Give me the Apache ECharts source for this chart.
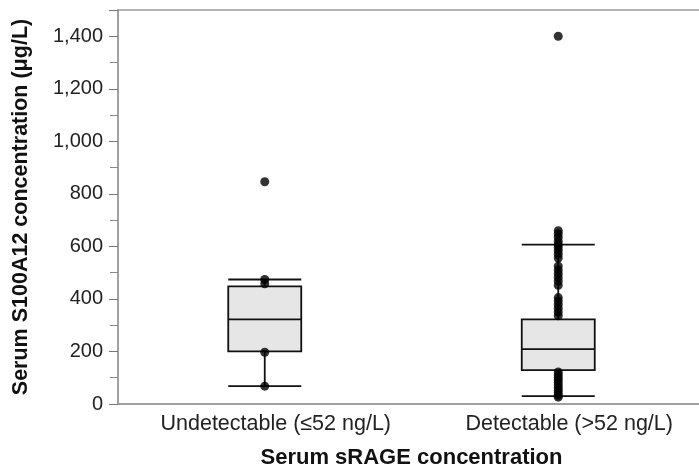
<!DOCTYPE html>
<html>
<head>
<meta charset="utf-8">
<script src="https://cdn.jsdelivr.net/npm/echarts@6/dist/echarts.min.js"></script>
<style>
  html, body { margin: 0; padding: 0; background: #fff; }
  #chart { width: 699px; height: 470px; }
</style>
</head>
<body>
<div id="chart"></div>
<script>
var categories = ['Undetectable (≤52 ng/L)', 'Detectable (>52 ng/L)'];
// [min, Q1, median, Q3, max]
var boxStats = [
  [68, 200, 322, 448, 474],
  [30, 129, 209, 322, 607]
];
// individual points drawn over the boxes
var undetectablePoints = [846, 474, 458, 197, 68];
var detectablePoints = [1400, 660, 648, 635, 620, 607, 596, 584, 570, 556,
  525, 510, 496, 482, 468, 452, 405, 392, 378, 364, 350, 336,
  122, 112, 102, 92, 82, 72, 62, 52, 42, 33, 26];
var yTicks = { min: 0, max: 1500, interval: 200 };

var pts = [];
undetectablePoints.forEach(function (v) { pts.push([0, v]); });
detectablePoints.forEach(function (v) { pts.push([1, v]); });

var chart = echarts.init(document.getElementById('chart'));
var font = 'Liberation Sans, Arial, sans-serif';
chart.setOption({
  animation: false,
  grid: {
    left: 118, right: -6, top: 10, bottom: 66,
    outerBoundsMode: 'none',
    show: true, borderColor: '#9a9a9a', borderWidth: 1.5
  },
  xAxis: {
    type: 'category',
    data: categories,
    name: 'Serum sRAGE concentration',
    nameLocation: 'middle',
    nameGap: 43,
    nameTextStyle: { fontFamily: font, fontSize: 22, fontWeight: 'bold', color: '#111' },
    axisLine: { lineStyle: { color: '#9a9a9a', width: 1.5 } },
    axisTick: { length: 6, lineStyle: { color: '#9a9a9a' } },
    axisLabel: {
      interval: 0, hideOverlap: false,
      fontFamily: font, fontSize: 21.5, color: '#222', margin: 9, padding: [0, 0, 0, 22]
    },
    splitLine: { show: false }
  },
  yAxis: {
    type: 'value',
    min: yTicks.min, max: yTicks.max, interval: yTicks.interval,
    name: 'Serum S100A12 concentration (μg/L)',
    nameLocation: 'middle',
    nameGap: 86,
    nameTextStyle: { fontFamily: font, fontSize: 21.5, fontWeight: 'bold', color: '#111' },
    axisLine: { show: true, lineStyle: { color: '#9a9a9a', width: 1.5 } },
    axisTick: { show: true, length: 9, lineStyle: { color: '#777' } },
    minorTick: { show: true, splitNumber: 2, length: 8, lineStyle: { color: '#888' } },
    axisLabel: {
      fontFamily: font, fontSize: 20, color: '#222', margin: 15,
      formatter: function (v) { return v > 1400 ? '' : v.toLocaleString('en-US'); }
    },
    splitLine: { show: false }
  },
  series: [
    {
      type: 'boxplot',
      data: boxStats,
      boxWidth: [73, 73],
      itemStyle: { color: '#e6e6e6', borderColor: '#111', borderWidth: 1.8 }
    },
    {
      type: 'scatter',
      data: pts,
      symbolSize: 9,
      itemStyle: { color: '#000' },
      z: 3
    }
  ]
});
</script>
</body>
</html>
